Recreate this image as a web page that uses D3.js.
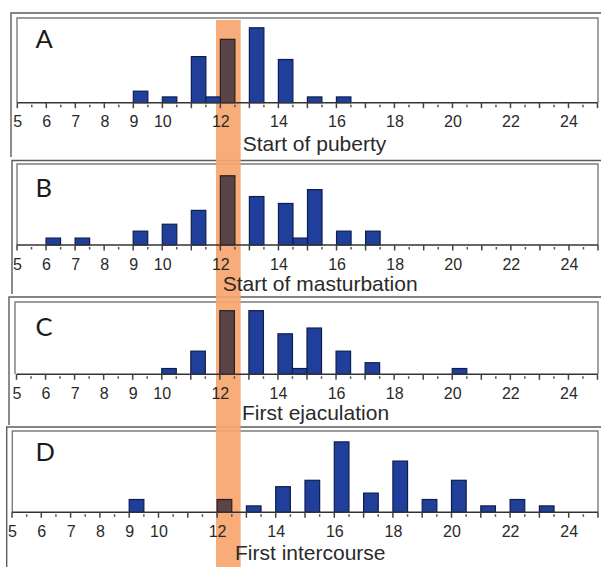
<!DOCTYPE html>
<html>
<head>
<meta charset="utf-8">
<script src="https://cdn.jsdelivr.net/npm/d3@7"></script>
<style>
html,body{margin:0;padding:0;background:#fff;}
svg{display:block;}
</style>
</head>
<body>
<svg id="chart" width="601" height="567"></svg>
<script>
// ---- data ----
const tickLabels = [5, 6, 7, 8, 9, 10, 12, 14, 16, 18, 20, 22, 24];
const panelLetters = ["A", "B", "C", "D"];
const panelTitles = ["Start of puberty", "Start of masturbation", "First ejaculation", "First intercourse"];

const pubertyAges = [9, 10, 11, 11.5, 12, 13, 14, 15, 16];
const pubertyCounts = [2, 1, 8, 1, 11, 13, 7.5, 1, 1];

const masturbationAges = [6, 7, 9, 10, 11, 12, 13, 14, 14.5, 15, 16, 17];
const masturbationCounts = [1, 1, 2, 3, 5, 10, 7, 6, 1, 8, 2, 2];

const ejaculationAges = [10, 11, 12, 13, 14, 14.5, 15, 16, 17, 20];
const ejaculationCounts = [1, 4, 11, 11, 7, 1, 8, 4, 2, 1];

const intercourseAges = [9, 12, 13, 14, 15, 16, 17, 18, 19, 20, 21, 22, 23];
const intercourseCounts = [2, 2, 1, 4, 5, 11, 3, 8, 2, 5, 1, 2, 1];

const highlightAge = 12;
const highlightBand = [11.85, 12.7];
const ageDomain = [5, 25];
const binWidth = 0.5;

// ---- layout (positions / styles) ----
const layout = [
  {outer:{l:11, t:13, b:157}, inner:{l:17, t:18, r:598}, axisY:102.7, x0:17.3, x1:597.5, yTop:14.7, letterY:48.3, titleX:242.7, titleY:151},
  {outer:{l:12, t:160.5, b:294}, inner:{l:17, t:164, r:598}, axisY:245, x0:17, x1:598, yTop:11.7, letterY:196.5, titleX:222.7, titleY:291},
  {outer:{l:9, t:297, b:425}, inner:{l:15, t:302, r:598}, axisY:374.3, x0:16.5, x1:597.5, yTop:12.5, letterY:336, titleX:242, titleY:420},
  {outer:{l:6.7, t:427, b:567}, inner:{l:12.3, t:431, r:598}, axisY:512.3, x0:12, x1:598, yTop:12.7, letterY:461, titleX:235, titleY:560}
];

const series = [
  {ages: pubertyAges, counts: pubertyCounts},
  {ages: masturbationAges, counts: masturbationCounts},
  {ages: ejaculationAges, counts: ejaculationCounts},
  {ages: intercourseAges, counts: intercourseCounts}
];

const svg = d3.select("#chart");
const W = 601, H = 567;

const gFrames = svg.append("g");
const gBand = svg.append("g");
const gMarks = svg.append("g");

const majorTicks = d3.range(ageDomain[0], ageDomain[1] + 1);
const minorTicks = d3.range(ageDomain[0] + 0.5, ageDomain[1], 1);

series.forEach((s, i) => {
  const L = layout[i];
  const x = d3.scaleLinear().domain(ageDomain).range([L.x0, L.x1]);
  const y = d3.scaleLinear().domain([0, L.yTop]).range([L.axisY, L.inner.t]);

  // outer frame (left + top)
  gFrames.append("path")
    .attr("d", `M${L.outer.l},${L.outer.b} L${L.outer.l},${L.outer.t} L${W},${L.outer.t}`)
    .attr("fill", "none").attr("stroke", "#5c5c5c").attr("stroke-width", 1.4);
  // inner box
  gFrames.append("path")
    .attr("d", `M${L.inner.l},${L.axisY} L${L.inner.l},${L.inner.t} L${L.inner.r},${L.inner.t} L${L.inner.r},${L.axisY}`)
    .attr("fill", "none").attr("stroke", "#7c7c7c").attr("stroke-width", 1.4);

  const g = gMarks.append("g");
  const data = s.ages.map((a, k) => ({age: a, count: s.counts[k]}));

  // bars
  g.selectAll("rect.bar").data(data).enter().append("rect")
    .attr("class", "bar")
    .attr("x", d => x(d.age))
    .attr("width", d => x(d.age + binWidth) - x(d.age))
    .attr("y", d => y(d.count))
    .attr("height", d => y(0) - y(d.count))
    .attr("fill", d => d.age === highlightAge ? "#5a4448" : "#1f3f9b")
    .attr("stroke", d => d.age === highlightAge ? "#2b1e20" : "#0f1d4d")
    .attr("stroke-width", 1.2);

  // axis line
  g.append("line")
    .attr("x1", x(ageDomain[0])).attr("x2", x(ageDomain[1]))
    .attr("y1", L.axisY).attr("y2", L.axisY)
    .attr("stroke", "#333").attr("stroke-width", 1.5);
  // major ticks
  g.selectAll("line.maj").data(majorTicks).enter().append("line")
    .attr("class", "maj")
    .attr("x1", d => x(d)).attr("x2", d => x(d))
    .attr("y1", L.axisY).attr("y2", L.axisY + 5.5)
    .attr("stroke", "#444").attr("stroke-width", 1.5);
  // minor ticks
  g.selectAll("line.min").data(minorTicks).enter().append("line")
    .attr("class", "min")
    .attr("x1", d => x(d)).attr("x2", d => x(d))
    .attr("y1", L.axisY + 2).attr("y2", L.axisY + 4.5)
    .attr("stroke", "#555").attr("stroke-width", 1.5);
  // tick labels
  g.selectAll("text.tl").data(tickLabels).enter().append("text")
    .attr("class", "tl")
    .attr("x", d => x(d) + 0.5)
    .attr("y", L.axisY + 24.7)
    .attr("text-anchor", "middle")
    .attr("font-family", "'Liberation Sans', Arial, sans-serif")
    .attr("font-size", 16)
    .attr("fill", "#2a2a2a")
    .text(d => d);

  // title
  g.append("text")
    .attr("x", L.titleX).attr("y", L.titleY)
    .attr("font-family", "'Liberation Sans', Arial, sans-serif")
    .attr("font-size", 21)
    .attr("fill", "#2a2a2a")
    .text(panelTitles[i]);

  // panel letter
  g.append("text")
    .attr("x", 35.5).attr("y", L.letterY)
    .attr("font-family", "Lato, 'Open Sans', sans-serif")
    .attr("font-size", 25.5)
    .attr("fill", "#1a1a1a")
    .text(panelLetters[i]);
});

// highlight band (drawn over frames, below bars)
const xBand = d3.scaleLinear().domain(ageDomain).range([layout[0].x0, layout[0].x1]);
gBand.append("rect")
  .attr("x", xBand(highlightBand[0]))
  .attr("width", xBand(highlightBand[1]) - xBand(highlightBand[0]))
  .attr("y", 20)
  .attr("height", H - 20)
  .attr("fill", "#f6a66f")
  .attr("opacity", 0.93);
</script>
</body>
</html>
